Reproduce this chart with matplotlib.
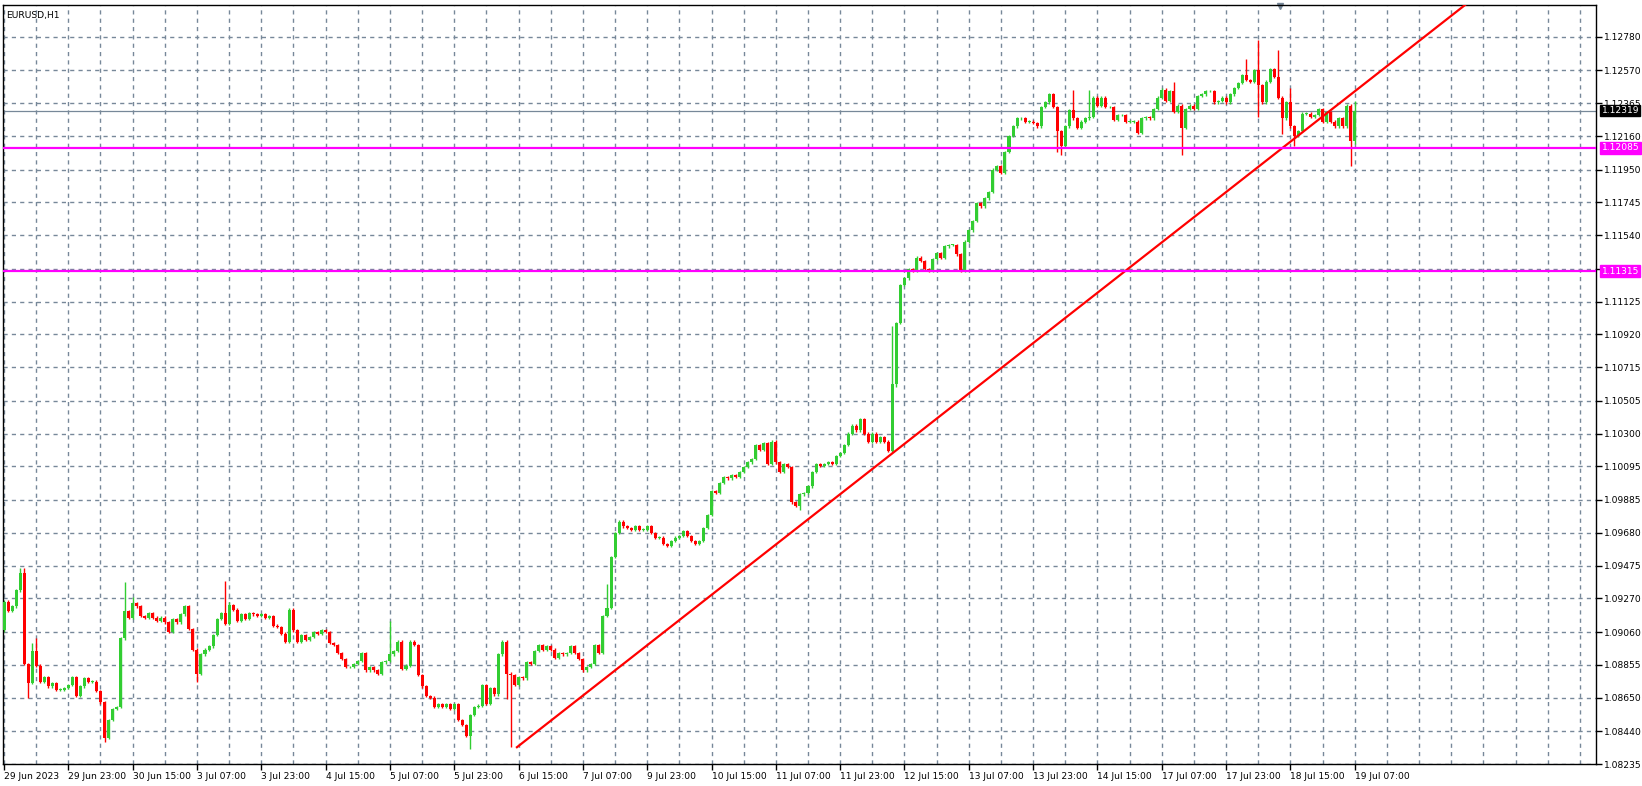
import matplotlib
matplotlib.use("Agg")
import matplotlib.pyplot as plt
import numpy as np

symbol = "EURUSD,H1"
first_open = 1.0907
closes = [
 1.0925,1.0919,1.0922,1.0932,1.0943,1.0886,1.0874,1.0894,1.0885,1.0875,
 1.0878,1.0872,1.0874,1.0870,1.0870,1.0871,1.0873,1.0878,1.0866,1.0872,
 1.0877,1.0875,1.0875,1.0869,1.0862,1.0840,1.0851,1.0858,1.0859,1.0902,
 1.0919,1.0915,1.0924,1.0922,1.0916,1.0915,1.0918,1.0915,1.0913,1.0915,
 1.0912,1.0906,1.0914,1.0912,1.0917,1.0922,1.0908,1.0895,1.0880,1.0892,
 1.0895,1.0897,1.0904,1.0914,1.0918,1.0911,1.0923,1.0920,1.0913,1.0917,
 1.0914,1.0918,1.0917,1.0916,1.0917,1.0915,1.0916,1.0910,1.0909,1.0905,
 1.0900,1.0920,1.0907,1.0900,1.0904,1.0901,1.0903,1.0906,1.0905,1.0907,
 1.0906,1.0899,1.0898,1.0893,1.0889,1.0884,1.0884,1.0886,1.0888,1.0893,
 1.0882,1.0884,1.0882,1.0880,1.0887,1.0888,1.0892,1.0894,1.0900,1.0883,
 1.0885,1.0900,1.0898,1.0879,1.0872,1.0866,1.0865,1.0859,1.0861,1.0859,
 1.0861,1.0858,1.0861,1.0851,1.0848,1.0841,1.0854,1.0859,1.0860,1.0873,
 1.0861,1.0871,1.0867,1.0892,1.0900,1.0880,1.0879,1.0873,1.0878,1.0877,
 1.0887,1.0886,1.0894,1.0898,1.0895,1.0897,1.0895,1.0890,1.0893,1.0892,
 1.0893,1.0897,1.0893,1.0889,1.0882,1.0884,1.0886,1.0898,1.0893,1.0916,
 1.0921,1.0953,1.0968,1.0975,1.0972,1.0971,1.0970,1.0972,1.0970,1.0970,
 1.0972,1.0968,1.0965,1.0965,1.0961,1.0960,1.0963,1.0965,1.0966,1.0969,
 1.0966,1.0963,1.0961,1.0963,1.0971,1.0979,1.0994,1.0993,1.0999,1.1003,
 1.1002,1.1004,1.1003,1.1006,1.1009,1.1012,1.1014,1.1023,1.1020,1.1024,
 1.1011,1.1025,1.1012,1.1006,1.1011,1.1009,1.0987,1.0985,1.0992,1.0993,
 1.0997,1.1006,1.1011,1.1010,1.1011,1.1012,1.1011,1.1016,1.1018,1.1023,
 1.1030,1.1035,1.1032,1.1039,1.1030,1.1025,1.1030,1.1025,1.1028,1.1025,
 1.1019,1.1061,1.1099,1.1123,1.1127,1.1133,1.1132,1.1140,1.1138,1.1133,
 1.1132,1.1139,1.1143,1.1140,1.1147,1.1148,1.1148,1.1142,1.1132,1.1150,
 1.1157,1.1163,1.1174,1.1172,1.1177,1.1181,1.1195,1.1197,1.1193,1.1206,
 1.1216,1.1222,1.1227,1.1227,1.1225,1.1225,1.1224,1.1222,1.1234,1.1237,
 1.1242,1.1234,1.1219,1.1210,1.1222,1.1232,1.1227,1.1221,1.1225,1.1227,
 1.1228,1.1240,1.1235,1.1240,1.1234,1.1234,1.1226,1.1229,1.1229,1.1225,
 1.1225,1.1225,1.1218,1.1227,1.1228,1.1227,1.1233,1.1240,1.1245,1.1238,
 1.1244,1.1231,1.1235,1.1221,1.1233,1.1235,1.1233,1.1241,1.1242,1.1244,
 1.1244,1.1237,1.1238,1.1240,1.1237,1.1242,1.1246,1.1249,1.1254,1.1251,
 1.1250,1.1257,1.1248,1.1237,1.1250,1.1258,1.1253,1.1240,1.1227,1.1237,
 1.1222,1.1216,1.1219,1.1230,1.1230,1.1228,1.1229,1.1233,1.1225,1.1231,
 1.1225,1.1222,1.1227,1.1222,1.1235,1.1213,1.12319,
]
spike_highs = {4: 1.0946, 5: 1.0946, 7: 1.0899, 8: 1.0902, 30: 1.0937, 32: 1.0928,
               55: 1.0938, 56: 1.0925, 96: 1.0913, 150: 1.0936, 221: 1.1097,
               266: 1.1245, 270: 1.1245, 291: 1.1250, 309: 1.1264, 312: 1.1276,
               317: 1.1270, 320: 1.1246, 336: 1.1238}
spike_lows = {6: 1.0865, 25: 1.0837, 48: 1.0875, 116: 1.0833, 125: 1.0864,
              126: 1.0834, 198: 1.0982, 222: 1.1059, 262: 1.1206, 263: 1.1204,
              293: 1.1204, 312: 1.1228, 318: 1.1217, 321: 1.1210, 335: 1.1197,
              336: 1.1211}
trend_x = [127.6, 318.0]
trend_y = [1.0834, 1.12085]
levels = [1.12085, 1.11315]
bid = 1.12319
yticks = [1.12780,1.12570,1.12365,1.12160,1.11950,1.11745,1.11540,1.11330,1.11125,
          1.10920,1.10715,1.10505,1.10300,1.10095,1.09885,1.09680,1.09475,1.09270,
          1.09060,1.08855,1.08650,1.08440,1.08235]
xlabels = ["29 Jun 2023","29 Jun 23:00","30 Jun 15:00","3 Jul 07:00","3 Jul 23:00",
           "4 Jul 15:00","5 Jul 07:00","5 Jul 23:00","6 Jul 15:00","7 Jul 07:00",
           "9 Jul 23:00","10 Jul 15:00","11 Jul 07:00","11 Jul 23:00","12 Jul 15:00",
           "13 Jul 07:00","13 Jul 23:00","14 Jul 15:00","17 Jul 07:00","17 Jul 23:00",
           "18 Jul 15:00","19 Jul 07:00"]

FS = 6.6
W, H = 1642, 786
fig = plt.figure(figsize=(W/100, H/100), dpi=100)
L, R, T, B = 3, 1596, 5, 764
ax = fig.add_axes([L/W, (H-B)/H, (R-L)/W, (B-T)/H])
ax.set_facecolor("white")

n = len(closes)
x = np.arange(n)
c = np.array(closes)
o = np.concatenate([[first_open], c[:-1]])
hi = np.maximum(o, c) + 0.00008
lo = np.minimum(o, c) - 0.00008
for k, v in spike_highs.items():
    hi[k] = max(hi[k], v)
for k, v in spike_lows.items():
    lo[k] = min(lo[k], v)
up = c >= o
cols = np.where(up, "#32CD32", "#FF0000")

ax.set_xlim(-0.25, -0.25 + (R - L) / 4.02)
ax.set_ylim(1.08235, 1.08235 + (B - T) / 16000)

for xv in range(0, 400, 8):
    ax.axvline(xv, color="#778899", lw=1.0, ls=(0, (3, 3)), zorder=0)
for yv in yticks:
    ax.axhline(yv, color="#778899", lw=1.0, ls=(0, (3, 3)), zorder=0)

ax.vlines(x, lo, hi, colors=cols, lw=1.0, zorder=2)
bh = np.maximum(np.abs(c - o), 0.00003)
ax.bar(x, bh, bottom=np.minimum(o, c), width=0.75, color=cols, linewidth=0, zorder=3)

slope = (trend_y[1] - trend_y[0]) / (trend_x[1] - trend_x[0])
tx = np.array([trend_x[0], 420])
ax.plot(tx, trend_y[0] + slope * (tx - trend_x[0]), color="#FF0000", lw=1.6, zorder=4)

for lv in levels:
    ax.axhline(lv, color="#FF00FF", lw=1.6, zorder=4)
ax.axhline(bid, color="#778899", lw=0.9, zorder=1)

ax.yaxis.tick_right()
ax.set_yticks(yticks)
ax.set_yticklabels(["" if abs(v - 1.1133) < 1e-6 else f"{v:.5f}" for v in yticks],
                   fontsize=FS)
ax.set_xticks(np.arange(len(xlabels)) * 16)
ax.set_xticklabels(xlabels, fontsize=FS, ha="left")
ax.tick_params(axis="both", length=4, width=1, color="black", pad=2)
for s in ax.spines.values():
    s.set_color("black"); s.set_linewidth(1)

tr = ax.get_yaxis_transform()
for val, bg in [(levels[0], "#FF00FF"), (levels[1], "#FF00FF"), (bid, "black")]:
    ax.text(1.0035, val, f"{val:.5f}", transform=tr, fontsize=FS, color="white",
            va="center", ha="left", clip_on=False,
            bbox=dict(boxstyle="square,pad=0.15", fc=bg, ec=bg))

ax.text(0.002, 0.992, symbol, transform=ax.transAxes, fontsize=FS, va="top", ha="left")
ax.plot([317.3], [ax.get_ylim()[1] - 0.00005], marker="v", color="#778899", ms=5, clip_on=False)

fig.savefig("out.png", dpi=100)
